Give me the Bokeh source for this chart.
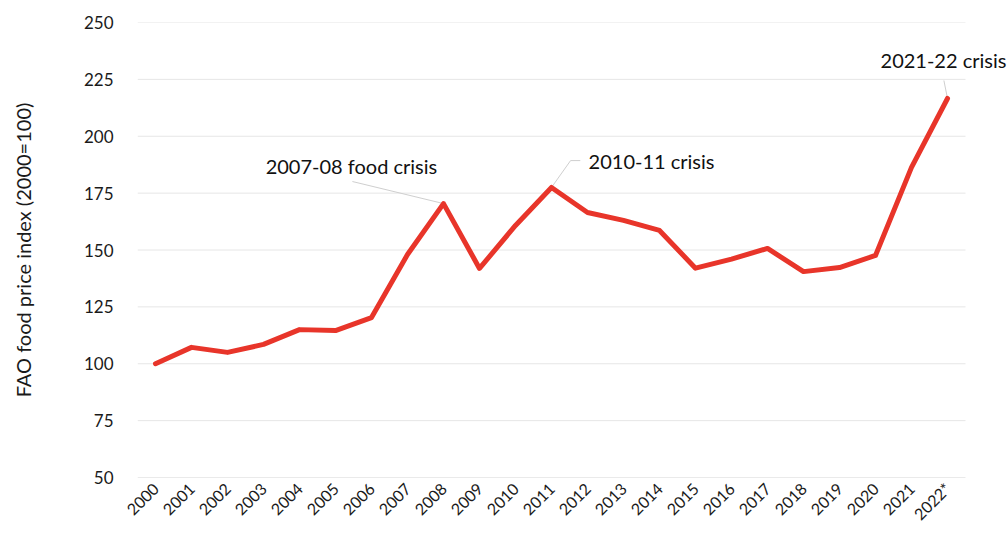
import math
from bokeh.plotting import figure
from bokeh.models import Range1d, FixedTicker, Label
from bokeh.embed import file_html
from bokeh.resources import INLINE

years = ["2000", "2001", "2002", "2003", "2004", "2005", "2006", "2007", "2008", "2009",
         "2010", "2011", "2012", "2013", "2014", "2015", "2016", "2017", "2018", "2019",
         "2020", "2021", "2022*"]
index_values = [100.0, 107.2, 105.0, 108.5, 115.0, 114.6, 120.3, 148.0, 170.4, 141.9,
                160.8, 177.5, 166.5, 163.0, 158.6, 142.0, 146.0, 150.7, 140.5, 142.3,
                147.6, 186.3, 216.6]
y_ticks = [50, 75, 100, 125, 150, 175, 200, 225, 250]

annotations = ["2007-08 food crisis", "2010-11 crisis", "2021-22 crisis"]

FONT = "Lato"
RED = "#E8352A"
GRID = "#e6e6e6"
BASE = "#d6d6d6"

xs = list(range(len(years)))
n = len(years)

p = figure(width=1008, height=537, output_backend="svg", toolbar_location=None,
           x_range=Range1d(-0.5, n - 0.5 + 43 / 36), y_range=Range1d(50, 250),
           min_border_left=137, min_border_right=0, min_border_top=22, min_border_bottom=60)
p.outline_line_color = None
p.background_fill_color = "white"
p.border_fill_color = "white"

p.xgrid.grid_line_color = None
p.ygrid.grid_line_color = None

# horizontal gridlines over the plotted category span only
grid_colors = [BASE] + [GRID] * (len(y_ticks) - 1)
p.segment(x0=[-0.5] * len(y_ticks), x1=[n - 0.5] * len(y_ticks), y0=y_ticks, y1=y_ticks,
          line_color=grid_colors, line_width=1)

p.yaxis.ticker = FixedTicker(ticks=y_ticks)
p.yaxis.axis_line_color = None
p.yaxis.major_tick_line_color = None
p.yaxis.minor_tick_line_color = None
p.yaxis.major_label_text_font = FONT
p.yaxis.major_label_text_font_size = "17px"
p.yaxis.major_label_text_color = "#1a1a1a"
p.yaxis.major_label_standoff = 18
p.yaxis.axis_label = "FAO food price index (2000=100)"
p.yaxis.axis_label_text_font = FONT
p.yaxis.axis_label_text_font_size = "20px"
p.yaxis.axis_label_text_font_style = "normal"
p.yaxis.axis_label_text_color = "#1a1a1a"
p.yaxis.axis_label_standoff = 46

p.xaxis.ticker = FixedTicker(ticks=xs)
p.xaxis.major_label_overrides = {i: y for i, y in enumerate(years)}
p.xaxis.major_label_orientation = math.pi / 4
p.xaxis.axis_line_color = None
p.xaxis.major_tick_line_color = None
p.xaxis.minor_tick_line_color = None
p.xaxis.major_label_text_font = FONT
p.xaxis.major_label_text_font_size = "16px"
p.xaxis.major_label_text_color = "#1a1a1a"
p.xaxis.major_label_standoff = 2

# leader lines for annotations (x in year-index units, y in index units)
p.line([5.47, 8], [180.1, 170.4], line_color="#cfcfcf", line_width=1)
p.line([11, 11.53, 11.8], [177.5, 189.3, 189.3], line_color="#cfcfcf", line_width=1)
p.line([21.9, 22], [224.5, 216.6], line_color="#cfcfcf", line_width=1)

p.line(xs, index_values, line_color=RED, line_width=5, line_join="round", line_cap="round")

label_pos = [(3.06, 187.1), (12.03, 189.3), (20.14, 233.3)]
for txt, (lx, ly) in zip(annotations, label_pos):
    p.add_layout(Label(x=lx, y=ly, text=txt, text_font=FONT, text_font_size="20px",
                       text_baseline="middle", text_align="left", text_color="#111111"))

open("out.html", "w").write(file_html(p, INLINE))
